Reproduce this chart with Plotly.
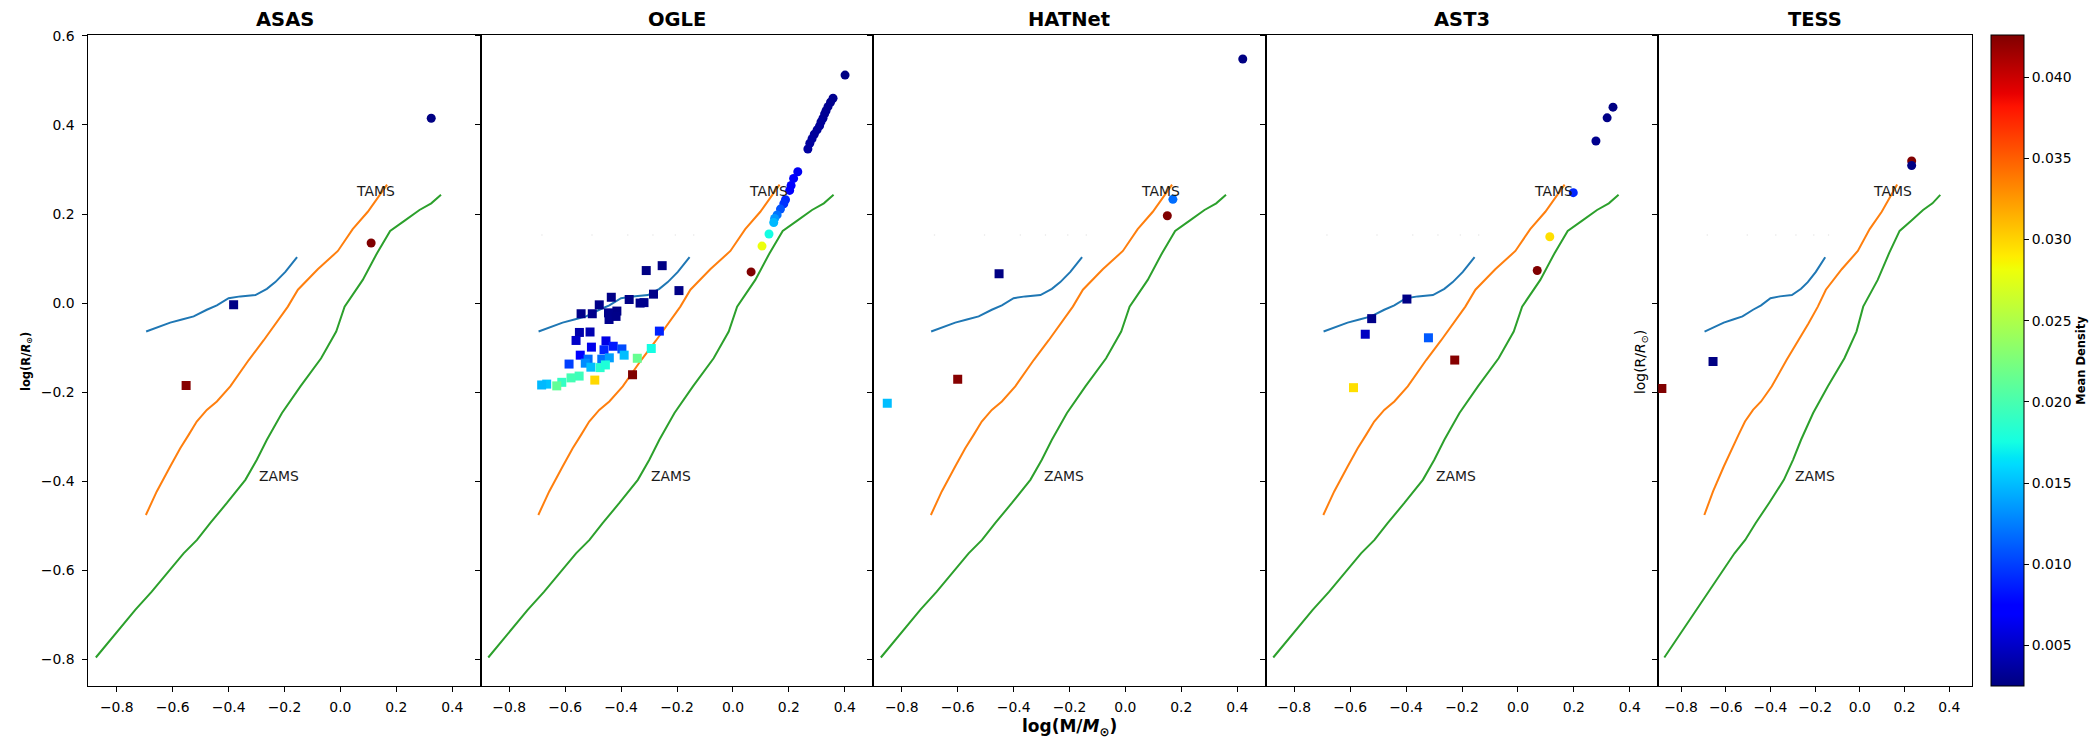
import plotly.graph_objects as go

# ---------------------------------------------------------------- data
SURVEYS = ["ASAS", "OGLE", "HATNet", "AST3", "TESS"]

# evolutionary tracks (log M, log R)
ZAMS_X = [-0.875, -0.812, -0.734, -0.675, -0.621, -0.561, -0.513, -0.466, -0.406, -0.340,
          -0.299, -0.263, -0.209, -0.143, -0.069, -0.015, 0.015, 0.080, 0.131, 0.178,
          0.230, 0.283, 0.325, 0.360]
ZAMS_Y = [-0.796, -0.749, -0.689, -0.648, -0.607, -0.562, -0.532, -0.494, -0.449, -0.397,
          -0.352, -0.307, -0.247, -0.187, -0.124, -0.064, -0.008, 0.052, 0.112, 0.162,
          0.185, 0.209, 0.224, 0.243]

TAMS_X = [-0.696, -0.657, -0.609, -0.573, -0.543, -0.514, -0.478, -0.442, -0.394, -0.328,
          -0.275, -0.230, -0.188, -0.152, -0.081, -0.009, 0.044, 0.098, 0.167]
TAMS_Y = [-0.476, -0.423, -0.367, -0.326, -0.296, -0.266, -0.240, -0.221, -0.187, -0.128,
          -0.084, -0.046, -0.008, 0.030, 0.076, 0.117, 0.166, 0.205, 0.266]

TRACK_X = [-0.695, -0.609, -0.567, -0.525, -0.478, -0.442, -0.400, -0.358, -0.304, -0.263,
           -0.233, -0.197, -0.155]
TRACK_Y = [-0.064, -0.044, -0.037, -0.030, -0.015, -0.005, 0.011, 0.015, 0.018, 0.032,
           0.047, 0.070, 0.103]

FAINT_X = [-0.683, -0.504, -0.376, -0.286, -0.206, -0.140]
FAINT_Y = [0.153, 0.153, 0.153, 0.153, 0.153, 0.153]

# circles / squares: (log M, log R, mean density)
ASAS_CIRC_X = [0.325, 0.110]
ASAS_CIRC_Y = [0.415, 0.135]
ASAS_CIRC_D = [0.0026, 0.0426]
ASAS_SQ_X = [-0.382, -0.552]
ASAS_SQ_Y = [-0.004, -0.185]
ASAS_SQ_D = [0.0027, 0.0424]

OGLE_CIRC_X = [0.401, 0.358, 0.349, 0.340, 0.333, 0.328, 0.322, 0.315, 0.310, 0.301, 0.291,
               0.283, 0.275, 0.268, 0.232, 0.217, 0.208, 0.203, 0.188, 0.182, 0.170, 0.158,
               0.149, 0.146, 0.129, 0.104, 0.065]
OGLE_CIRC_Y = [0.512, 0.460, 0.451, 0.441, 0.432, 0.425, 0.415, 0.407, 0.398, 0.389, 0.379,
               0.369, 0.359, 0.346, 0.295, 0.280, 0.264, 0.253, 0.232, 0.223, 0.211, 0.198,
               0.190, 0.181, 0.155, 0.128, 0.070]
OGLE_CIRC_D = [0.0026, 0.0030, 0.0030, 0.0031, 0.0031, 0.0032, 0.0032, 0.0033, 0.0033, 0.0034,
               0.0034, 0.0035, 0.0035, 0.0036, 0.0065, 0.0068, 0.0070, 0.0072, 0.0090, 0.0095,
               0.0108, 0.0120, 0.0135, 0.0148, 0.0175, 0.0280, 0.0426]
OGLE_SQ_X = [-0.310, -0.253, -0.193, -0.284, -0.371, -0.332, -0.318, -0.435, -0.478, -0.415,
             -0.445, -0.443, -0.418, -0.543, -0.503, -0.549, -0.511, -0.561, -0.454, -0.506,
             -0.428, -0.263, -0.397, -0.461, -0.546, -0.586, -0.518, -0.469, -0.442, -0.389,
             -0.528, -0.292, -0.342, -0.508, -0.475, -0.456, -0.550, -0.579, -0.612, -0.630,
             -0.666, -0.684, -0.494, -0.359]
OGLE_SQ_Y = [0.073, 0.084, 0.028, 0.020, 0.008, 0.000, 0.001, 0.013, -0.004, -0.018,
             -0.022, -0.037, -0.030, -0.024, -0.024, -0.066, -0.065, -0.084, -0.085, -0.099,
             -0.097, -0.063, -0.103, -0.105, -0.117, -0.137, -0.126, -0.126, -0.123, -0.117,
             -0.135, -0.102, -0.124, -0.144, -0.145, -0.139, -0.164, -0.168, -0.178, -0.186,
             -0.182, -0.184, -0.173, -0.161]
OGLE_SQ_D = [0.0026, 0.0026, 0.0027, 0.0028, 0.0027, 0.0028, 0.0029, 0.0027, 0.0028, 0.0027,
             0.0029, 0.0030, 0.0028, 0.0028, 0.0029, 0.0040, 0.0042, 0.0050, 0.0060, 0.0062,
             0.0085, 0.0088, 0.0105, 0.0090, 0.0075, 0.0100, 0.0118, 0.0120, 0.0138, 0.0150,
             0.0130, 0.0175, 0.0215, 0.0150, 0.0185, 0.0180, 0.0195, 0.0198, 0.0190, 0.0212,
             0.0152, 0.0148, 0.0298, 0.0426]

HAT_CIRC_X = [0.420, 0.170, 0.150]
HAT_CIRC_Y = [0.548, 0.233, 0.196]
HAT_CIRC_D = [0.0026, 0.0118, 0.0426]
HAT_SQ_X = [-0.452, -0.600, -0.852]
HAT_SQ_Y = [0.066, -0.171, -0.225]
HAT_SQ_D = [0.0026, 0.0424, 0.0150]

AST_CIRC_X = [0.340, 0.319, 0.279, 0.198, 0.114, 0.069]
AST_CIRC_Y = [0.440, 0.416, 0.364, 0.248, 0.149, 0.073]
AST_CIRC_D = [0.0026, 0.0027, 0.0030, 0.0090, 0.0295, 0.0426]
AST_SQ_X = [-0.397, -0.523, -0.546, -0.320, -0.226, -0.588]
AST_SQ_Y = [0.009, -0.035, -0.070, -0.078, -0.128, -0.190]
AST_SQ_D = [0.0027, 0.0028, 0.0048, 0.0110, 0.0424, 0.0295]

TESS_CIRC_X = [0.232, 0.232]
TESS_CIRC_Y = [0.319, 0.309]
TESS_CIRC_D = [0.0426, 0.0026]
TESS_SQ_X = [-0.657, -0.886]
TESS_SQ_Y = [-0.131, -0.192]
TESS_SQ_D = [0.0026, 0.0426]

CIRCLES = [(ASAS_CIRC_X, ASAS_CIRC_Y, ASAS_CIRC_D), (OGLE_CIRC_X, OGLE_CIRC_Y, OGLE_CIRC_D),
           (HAT_CIRC_X, HAT_CIRC_Y, HAT_CIRC_D), (AST_CIRC_X, AST_CIRC_Y, AST_CIRC_D),
           (TESS_CIRC_X, TESS_CIRC_Y, TESS_CIRC_D)]
SQUARES = [(ASAS_SQ_X, ASAS_SQ_Y, ASAS_SQ_D), (OGLE_SQ_X, OGLE_SQ_Y, OGLE_SQ_D),
           (HAT_SQ_X, HAT_SQ_Y, HAT_SQ_D), (AST_SQ_X, AST_SQ_Y, AST_SQ_D),
           (TESS_SQ_X, TESS_SQ_Y, TESS_SQ_D)]

X_TICKS = [-0.8, -0.6, -0.4, -0.2, 0.0, 0.2, 0.4]
Y_TICKS = [-0.8, -0.6, -0.4, -0.2, 0.0, 0.2, 0.4, 0.6]
CB_TICKS = [0.005, 0.010, 0.015, 0.020, 0.025, 0.030, 0.035, 0.040]
D_MIN, D_MAX = 0.0025, 0.0426

# ---------------------------------------------------------------- style
W, H = 2100, 743
FONT = "DejaVu Sans"
TICK_SIZE = 13.9
PANEL_PX = [(88.3, 480.7), (480.7, 873.3), (873.3, 1265.7), (1265.7, 1658.3), (1658.3, 1972.0)]
PLOT_TOP, PLOT_BOT = 35.0, 686.0
X_RANGE = [-0.902, 0.502]
Y_RANGE = [-0.860, 0.602]


def label(v, fmt):
    s = format(v, fmt)
    return s.replace("-", "\u2212")


def jet_scale():
    red = [(0.0, 0.0), (0.35, 0.0), (0.66, 1.0), (0.89, 1.0), (1.0, 0.5)]
    green = [(0.0, 0.0), (0.125, 0.0), (0.375, 1.0), (0.64, 1.0), (0.91, 0.0), (1.0, 0.0)]
    blue = [(0.0, 0.5), (0.11, 1.0), (0.34, 1.0), (0.65, 0.0), (1.0, 0.0)]

    def interp(seg, v):
        for (a, ca), (b, cb) in zip(seg, seg[1:]):
            if a <= v <= b:
                return ca + (cb - ca) * (v - a) / (b - a) if b > a else ca
        return seg[-1][1]

    stops = sorted({p for seg in (red, green, blue) for p, _ in seg})
    return [[v, "rgb({:.0f},{:.0f},{:.0f})".format(255 * interp(red, v), 255 * interp(green, v),
                                                    255 * interp(blue, v))] for v in stops]


fig = go.Figure()
layout = dict(
    width=W, height=H,
    margin=dict(l=0, r=0, t=0, b=0, autoexpand=False),
    paper_bgcolor="white", plot_bgcolor="white",
    showlegend=False,
    font=dict(family=FONT, color="black", size=TICK_SIZE),
    coloraxis=dict(
        colorscale=jet_scale(), cmin=D_MIN, cmax=D_MAX,
        colorbar=dict(
            x=1991 / W, xanchor="left", xpad=0,
            y=1 - (PLOT_TOP + PLOT_BOT) / 2 / H, yanchor="middle", ypad=0,
            len=(PLOT_BOT - PLOT_TOP) / H, lenmode="fraction",
            thickness=33, thicknessmode="pixels",
            outlinewidth=1, outlinecolor="black",
            ticks="outside", ticklen=5, tickwidth=1, tickcolor="black",
            tickvals=CB_TICKS, ticktext=[label(v, ".3f") for v in CB_TICKS],
            tickfont=dict(family=FONT, size=TICK_SIZE, color="black"),
            title=dict(text="<b>Mean Density</b>", side="right",
                       font=dict(family=FONT, size=11.5, color="black")),
        ),
    ),
)

annotations = []
y_dom = [1 - PLOT_BOT / H, 1 - PLOT_TOP / H]

for i, name in enumerate(SURVEYS):
    k = "" if i == 0 else str(i + 1)
    xa, ya = "x" + k, "y" + k
    x0, x1 = PANEL_PX[i]
    layout["xaxis" + k] = dict(
        domain=[x0 / W, x1 / W], range=X_RANGE, anchor=ya,
        tickvals=X_TICKS, ticktext=[label(v, ".1f") for v in X_TICKS],
        ticks="outside", ticklen=5, tickwidth=1, tickcolor="black", ticklabelstandoff=3,
        showline=True, linecolor="black", linewidth=1, mirror=True,
        showgrid=False, zeroline=False,
        tickfont=dict(family=FONT, size=TICK_SIZE, color="black"),
    )
    layout["yaxis" + k] = dict(
        domain=y_dom, range=Y_RANGE, anchor=xa,
        tickvals=Y_TICKS, ticktext=[label(v, ".1f") for v in Y_TICKS],
        showticklabels=(i == 0),
        ticks="outside", ticklen=5, tickwidth=1, tickcolor="black", ticklabelstandoff=5,
        showline=True, linecolor="black", linewidth=1, mirror=True,
        showgrid=False, zeroline=False,
        tickfont=dict(family=FONT, size=TICK_SIZE, color="black"),
    )

    # tracks
    fig.add_trace(go.Scatter(x=TRACK_X, y=TRACK_Y, mode="lines", xaxis=xa, yaxis=ya,
                             line=dict(color="#1f77b4", width=2), hoverinfo="skip"))
    fig.add_trace(go.Scatter(x=TAMS_X, y=TAMS_Y, mode="lines", xaxis=xa, yaxis=ya,
                             line=dict(color="#ff7f0e", width=2), hoverinfo="skip"))
    fig.add_trace(go.Scatter(x=ZAMS_X, y=ZAMS_Y, mode="lines", xaxis=xa, yaxis=ya,
                             line=dict(color="#2ca02c", width=2), hoverinfo="skip"))
    if i > 0:
        fig.add_trace(go.Scatter(x=FAINT_X, y=FAINT_Y, mode="markers", xaxis=xa, yaxis=ya,
                                 marker=dict(color="#e6e6e6", size=1.5), hoverinfo="skip"))

    # stars
    cx, cy, cd = CIRCLES[i]
    fig.add_trace(go.Scatter(x=cx, y=cy, mode="markers", xaxis=xa, yaxis=ya,
                             marker=dict(symbol="circle", size=9, color=cd,
                                         coloraxis="coloraxis", line=dict(width=0))))
    sx, sy, sd = SQUARES[i]
    fig.add_trace(go.Scatter(x=sx, y=sy, mode="markers", xaxis=xa, yaxis=ya,
                             marker=dict(symbol="square", size=9, color=sd,
                                         coloraxis="coloraxis", line=dict(width=0))))

    # track labels
    annotations.append(dict(text="TAMS", x=0.05, y=0.24, xref=xa, yref=ya,
                            xanchor="left", yanchor="middle", yshift=5, showarrow=False,
                            font=dict(family=FONT, size=TICK_SIZE, color="#1a1a1a")))
    annotations.append(dict(text="ZAMS", x=-0.30, y=-0.40, xref=xa, yref=ya,
                            xanchor="left", yanchor="middle", yshift=5, showarrow=False,
                            font=dict(family=FONT, size=TICK_SIZE, color="#1a1a1a")))

    # panel title
    annotations.append(dict(text="<b>%s</b>" % name, x=(x0 + x1) / 2 / W, y=1 - 19.5 / H,
                            xref="paper", yref="paper", xanchor="center", yanchor="middle",
                            showarrow=False, font=dict(family=FONT, size=19.5, color="black")))

# axis titles
annotations.append(dict(text="<b>log(M/<i>M</i><sub>\u2299</sub>)</b>", x=1069 / W, y=1 - 727 / H,
                        xref="paper", yref="paper", xanchor="center", yanchor="middle",
                        showarrow=False, font=dict(family=FONT, size=17, color="black")))
annotations.append(dict(text="<b>log(R/<i>R</i><sub>\u2299</sub>)</b>", x=27 / W, y=1 - 362 / H,
                        xref="paper", yref="paper", xanchor="center", yanchor="middle",
                        textangle=-90, showarrow=False,
                        font=dict(family=FONT, size=11.5, color="black")))
annotations.append(dict(text="log(R/<i>R</i><sub>\u2299</sub>)", x=1641 / W, y=1 - 362 / H,
                        xref="paper", yref="paper", xanchor="center", yanchor="middle",
                        textangle=-90, showarrow=False,
                        font=dict(family=FONT, size=TICK_SIZE, color="black")))

layout["annotations"] = annotations
fig.update_layout(**layout)
fig.write_html("out.html")
